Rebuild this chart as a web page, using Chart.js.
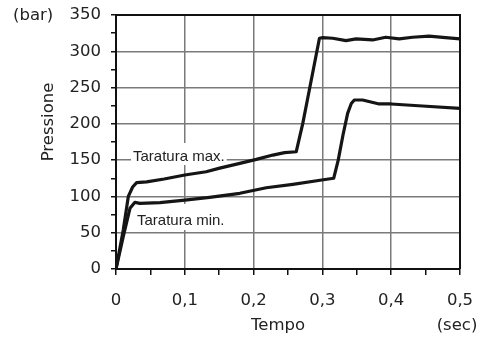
<!DOCTYPE html>
<html>
<head>
<meta charset="utf-8">
<script src="https://cdn.jsdelivr.net/npm/chart.js@4"></script>
<style>
  html, body { margin: 0; padding: 0; background: #fff; }
  #wrap { width: 488px; height: 338px; }
</style>
</head>
<body>
<div id="wrap"><canvas id="myChart" width="488" height="338"></canvas></div>
<script>
// Taratura max. (tempo in sec, pressione in bar)
const timeMax = [0, 0.0106, 0.0179, 0.0242, 0.03, 0.0445, 0.07, 0.1, 0.131, 0.1507, 0.18, 0.204, 0.228, 0.245, 0.262,
  0.2715, 0.281, 0.2957, 0.3005, 0.315, 0.3343, 0.349, 0.373, 0.392, 0.4116, 0.431, 0.455, 0.479, 0.5];
const pressMax = [0, 54, 100, 113, 119, 120, 124, 129.5, 134, 139, 145.6, 151, 157, 160.3, 161.6,
  200.7, 246.7, 317.9, 318.8, 318, 314.6, 317, 315.6, 319.3, 317, 319.3, 321, 318.8, 317];

// Taratura min.
const timeMin = [0, 0.0106, 0.0203, 0.0275, 0.0348, 0.0638, 0.1, 0.136, 0.18, 0.2184, 0.257, 0.299, 0.3164,
  0.323, 0.33, 0.3367, 0.342, 0.3464, 0.3584, 0.3826, 0.4, 0.4454, 0.5];
const pressMin = [0, 45, 83.6, 91.9, 90.5, 91.4, 95, 98.8, 104.3, 112, 116.7, 122.6, 125,
  150, 185, 214.5, 228, 232.9, 232.9, 227.4, 227.4, 224.6, 221.4];

const xTicks = [0, 0.05, 0.1, 0.15, 0.2, 0.25, 0.3, 0.35, 0.4, 0.45, 0.5];
const xTickLabels = ['0', '', '0,1', '', '0,2', '', '0,3', '', '0,4', '', '0,5'];
const yTicks = [0, 25, 50, 75, 100, 125, 150, 175, 200, 225, 250, 275, 300, 325, 350];
const yTickLabels = ['0', '', '50', '', '100', '', '150', '', '200', '', '250', '', '300', '', '350'];

const seriesLabels = ['Taratura max.', 'Taratura min.'];

const font = "'DejaVu Sans', Verdana, sans-serif";
const gridGray = '#7a7a7a';

const ctx = document.getElementById('myChart');

function toPoints(xs, ys) {
  return xs.map((x, i) => ({ x: x, y: ys[i] }));
}

// frame, axis titles and the two curve labels
const decorations = {
  id: 'decorations',
  beforeDatasetsDraw(chart) {
    const c = chart.ctx;
    c.save();
    c.font = "15px 'Liberation Sans', Arial, sans-serif";
    c.textBaseline = 'alphabetic';
    const boxes = [
      { text: seriesLabels[0], x: 133, y: 161, top: 143, bottom: 165 },
      { text: seriesLabels[1], x: 137, y: 225, top: 204, bottom: 230 },
    ];
    boxes.forEach((b) => {
      const w = c.measureText(b.text).width;
      c.fillStyle = '#fff';
      c.fillRect(b.x - 2, b.top, w + 4, b.bottom - b.top);
      c.fillStyle = '#222';
      c.fillText(b.text, b.x, b.y);
    });
    c.restore();
  },
  afterDraw(chart) {
    const c = chart.ctx;
    const a = chart.chartArea;
    c.save();
    c.strokeStyle = '#111';
    c.lineWidth = 2;
    c.beginPath();
    c.moveTo(a.left, a.top);
    c.lineTo(a.right, a.top);
    c.lineTo(a.right, a.bottom);
    c.stroke();

    c.fillStyle = '#222';
    c.font = '16.5px ' + font;
    c.textBaseline = 'alphabetic';
    c.textAlign = 'left';
    c.fillText('(bar)', 13, 20);
    c.textAlign = 'center';
    c.fillText('Tempo', 278, 330);
    c.fillText('(sec)', 457, 330);

    c.translate(53, 122);
    c.rotate(-Math.PI / 2);
    c.fillText('Pressione', 0, 0);
    c.restore();
  }
};

const data = {
  datasets: [
    {
      label: seriesLabels[0],
      data: toPoints(timeMax, pressMax),
      borderColor: '#151515',
      borderWidth: 3.2,
      pointRadius: 0,
      tension: 0,
      fill: false,
    },
    {
      label: seriesLabels[1],
      data: toPoints(timeMin, pressMin),
      borderColor: '#151515',
      borderWidth: 3.2,
      pointRadius: 0,
      tension: 0,
      fill: false,
    }
  ]
};

const options = {
  responsive: false,
  animation: false,
  layout: { padding: { top: 15, right: 28, left: 0, bottom: 0 } },
  borderJoinStyle: 'round',
  plugins: {
    legend: { display: false },
    tooltip: { enabled: false },
  },
  scales: {
    x: {
      type: 'linear',
      min: 0,
      max: 0.5,
      afterBuildTicks: (scale) => { scale.ticks = xTicks.map((v) => ({ value: v })); },
      afterFit: (scale) => {
        scale.height = 69;
        scale.paddingLeft = 0;
        scale.paddingRight = 0;
      },
      ticks: {
        autoSkip: false,
        maxRotation: 0,
        padding: 16,
        color: '#222',
        font: { family: font, size: 16.5 },
        callback: (value, index) => xTickLabels[index],
      },
      grid: {
        color: (c) => (c.index % 2 === 0 && c.index > 0 ? gridGray : 'rgba(0,0,0,0)'),
        lineWidth: 1.5,
        tickColor: '#111',
        tickLength: 6,
        tickWidth: 1.5,
      },
      border: { color: '#111', width: 2 },
    },
    y: {
      type: 'linear',
      min: 0,
      max: 350,
      afterBuildTicks: (scale) => { scale.ticks = yTicks.map((v) => ({ value: v })); },
      afterFit: (scale) => {
        scale.width = 116;
        scale.paddingTop = 0;
        scale.paddingBottom = 0;
      },
      ticks: {
        autoSkip: false,
        padding: 10,
        color: '#222',
        font: { family: font, size: 16.5 },
        callback: (value, index) => yTickLabels[index],
      },
      grid: {
        color: (c) => (c.index % 2 === 0 && c.index > 0 ? gridGray : 'rgba(0,0,0,0)'),
        lineWidth: 1.5,
        tickColor: '#111',
        tickLength: 5,
        tickWidth: 1.5,
      },
      border: { color: '#111', width: 2 },
    }
  }
};

const myChart = new Chart(ctx, { type: 'line', data, options, plugins: [decorations] });
</script>
</body>
</html>
